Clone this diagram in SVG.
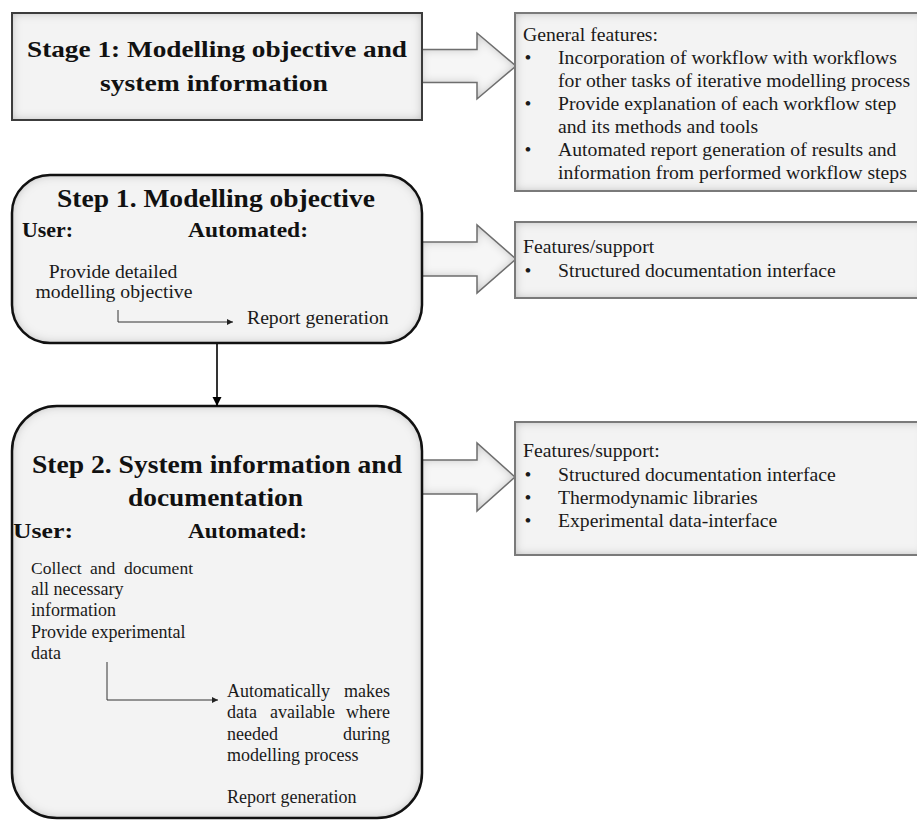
<svg xmlns="http://www.w3.org/2000/svg" width="917" height="820" viewBox="0 0 917 820" font-family="'Liberation Serif', Tinos, 'Times New Roman', 'DejaVu Serif', serif">
  <defs>
    <!-- soft grey inner shading used by all boxes and block arrows -->
    <filter id="inset" x="-10%" y="-10%" width="120%" height="120%">
      <feFlood flood-color="#000" flood-opacity="0.5" result="f"/>
      <feComposite in="f" in2="SourceAlpha" operator="out" result="ring"/>
      <feGaussianBlur in="ring" stdDeviation="5" result="blur"/>
      <feComposite in="blur" in2="SourceAlpha" operator="in" result="shade"/>
      <feMerge><feMergeNode in="SourceGraphic"/><feMergeNode in="shade"/></feMerge>
    </filter>
    <filter id="insetArrow" x="-20%" y="-20%" width="140%" height="140%">
      <feFlood flood-color="#000" flood-opacity="0.45" result="f"/>
      <feComposite in="f" in2="SourceAlpha" operator="out" result="ring"/>
      <feGaussianBlur in="ring" stdDeviation="5" result="blur"/>
      <feComposite in="blur" in2="SourceAlpha" operator="in" result="shade"/>
      <feMerge><feMergeNode in="SourceGraphic"/><feMergeNode in="shade"/></feMerge>
    </filter>
    <marker id="headBlack" viewBox="0 0 10 10" refX="10" refY="5" markerUnits="userSpaceOnUse" markerWidth="9" markerHeight="10" orient="auto">
      <path d="M0,0 L10,5 L0,10 Z" fill="#000"/>
    </marker>
    <marker id="headSmall" viewBox="0 0 10 10" refX="10" refY="5" markerUnits="userSpaceOnUse" markerWidth="8" markerHeight="6" orient="auto">
      <path d="M0,0 L10,5 L0,10 Z" fill="#222"/>
    </marker>
  </defs>
  <style>
    .fill { fill: #f3f3f3; filter: url(#inset); }
    .edgeDark { fill: none; stroke: #3c3c3c; stroke-width: 2; }
    .edgeRound { fill: none; stroke: #111; stroke-width: 2.5; }
    .edgeSide { fill: none; stroke: #7a7a7a; stroke-width: 2; }
    .arrowFill { fill: #f6f6f6; filter: url(#insetArrow); }
    .arrowEdge { fill: none; stroke: #6e6e6e; stroke-width: 1.5; stroke-linejoin: miter; }
    .head { font-weight: bold; fill: #111; }
    .body { fill: #1a1a1a; }
    .side { font-size: 19.7px; fill: #1a1a1a; }
    .conn { fill: none; stroke: #000; stroke-width: 1.6; }
    .connThin { fill: none; stroke: #333; stroke-width: 1; }
  </style>

  <rect width="917" height="820" fill="#fff"/>

  <!-- block arrows from each stage/step to its feature panel -->
  <g id="block-arrows">
    <path class="arrowFill" d="M421,49.5 L477,49.5 L477,33 L516,66 L477,99 L477,82.5 L421,82.5 Z"/>
    <path class="arrowEdge" d="M421,49.5 L477,49.5 L477,33 L516,66 L477,99 L477,82.5 L421,82.5"/>
    <path class="arrowFill" d="M421,242 L477,242 L477,225 L516,259 L477,293 L477,276 L421,276 Z"/>
    <path class="arrowEdge" d="M421,242 L477,242 L477,225 L516,259 L477,293 L477,276 L421,276"/>
    <path class="arrowFill" d="M421,460 L477,460 L477,443 L515,477 L477,511 L477,494 L421,494 Z"/>
    <path class="arrowEdge" d="M421,460 L477,460 L477,443 L515,477 L477,511 L477,494 L421,494"/>
  </g>

  <!-- Stage 1 header -->
  <g id="stage1">
    <rect class="fill" x="12" y="13" width="410" height="107"/>
    <rect class="edgeDark" x="12" y="13" width="410" height="107"/>
    <text class="head" font-size="24" x="27" y="57" textLength="380" lengthAdjust="spacingAndGlyphs">Stage 1: Modelling objective and</text>
    <text class="head" font-size="24" x="100" y="91" textLength="228" lengthAdjust="spacingAndGlyphs">system information</text>
  </g>

  <!-- General features panel -->
  <g id="general-features">
    <rect class="fill" x="515" y="13" width="410" height="178"/>
    <rect class="edgeSide" x="515" y="13" width="410" height="178"/>
    <text class="side" x="523" y="41">General features:</text>
    <text class="side" x="528" y="64" text-anchor="middle">•</text>
    <text class="side" x="558" y="64">Incorporation of workflow with workflows</text>
    <text class="side" x="558" y="87">for other tasks of iterative modelling process</text>
    <text class="side" x="528" y="110" text-anchor="middle">•</text>
    <text class="side" x="558" y="110">Provide explanation of each workflow step</text>
    <text class="side" x="558" y="133">and its methods and tools</text>
    <text class="side" x="528" y="156" text-anchor="middle">•</text>
    <text class="side" x="558" y="156">Automated report generation of results and</text>
    <text class="side" x="558" y="179">information from performed workflow steps</text>
  </g>

  <!-- Step 1 -->
  <g id="step1">
    <rect class="fill" x="12" y="175" width="410" height="168" rx="38" ry="38"/>
    <rect class="edgeRound" x="12" y="175" width="410" height="168" rx="38" ry="38"/>
    <text class="head" font-size="26" x="57" y="207" textLength="318" lengthAdjust="spacingAndGlyphs">Step 1. Modelling objective</text>
    <text class="head" font-size="22" x="22" y="237" textLength="51" lengthAdjust="spacingAndGlyphs">User:</text>
    <text class="head" font-size="22" x="188" y="237" textLength="120" lengthAdjust="spacingAndGlyphs">Automated:</text>
    <text class="body" font-size="19.7" x="113" y="278" text-anchor="middle">Provide detailed</text>
    <text class="body" font-size="19.7" x="114" y="298" text-anchor="middle">modelling objective</text>
    <text class="body" font-size="19.7" x="247" y="324">Report generation</text>
  </g>

  <!-- Step 1 feature panel -->
  <g id="step1-features">
    <rect class="fill" x="515" y="222" width="410" height="76"/>
    <rect class="edgeSide" x="515" y="222" width="410" height="76"/>
    <text class="side" x="523" y="253">Features/support</text>
    <text class="side" x="528" y="277" text-anchor="middle">•</text>
    <text class="side" x="558" y="277">Structured documentation interface</text>
  </g>

  <!-- Step 2 -->
  <g id="step2">
    <rect class="fill" x="12" y="406" width="410" height="412" rx="45" ry="45"/>
    <rect class="edgeRound" x="12" y="406" width="410" height="412" rx="45" ry="45"/>
    <text class="head" font-size="25" x="32" y="473" textLength="370" lengthAdjust="spacingAndGlyphs">Step 2. System information and</text>
    <text class="head" font-size="25" x="128" y="506" textLength="175" lengthAdjust="spacingAndGlyphs">documentation</text>
    <text class="head" font-size="22" x="13" y="538" textLength="60" lengthAdjust="spacingAndGlyphs">User:</text>
    <text class="head" font-size="22" x="188" y="538" textLength="119" lengthAdjust="spacingAndGlyphs">Automated:</text>
    <g class="body" font-size="18">
      <text x="31" y="574" font-size="17.5">Collect</text>
      <text x="90" y="574" font-size="17.5">and</text>
      <text x="193" y="574" font-size="17.5" text-anchor="end">document</text>
      <text x="31" y="595">all necessary</text>
      <text x="31" y="616">information</text>
      <text x="31" y="638">Provide experimental</text>
      <text x="31" y="659">data</text>
      <text x="227" y="697">Automatically</text>
      <text x="390" y="697" text-anchor="end">makes</text>
      <text x="227" y="718">data</text>
      <text x="270" y="718">available</text>
      <text x="390" y="718" text-anchor="end">where</text>
      <text x="227" y="740">needed</text>
      <text x="390" y="740" text-anchor="end">during</text>
      <text x="227" y="761">modelling process</text>
      <text x="227" y="803">Report generation</text>
    </g>
  </g>

  <!-- Step 2 feature panel -->
  <g id="step2-features">
    <rect class="fill" x="515" y="422" width="410" height="133"/>
    <rect class="edgeSide" x="515" y="422" width="410" height="133"/>
    <text class="side" x="523" y="457">Features/support:</text>
    <text class="side" x="528" y="481" text-anchor="middle">•</text>
    <text class="side" x="558" y="481">Structured documentation interface</text>
    <text class="side" x="528" y="504" text-anchor="middle">•</text>
    <text class="side" x="558" y="504">Thermodynamic libraries</text>
    <text class="side" x="528" y="527" text-anchor="middle">•</text>
    <text class="side" x="558" y="527">Experimental data-interface</text>
  </g>

  <!-- flow connectors -->
  <g id="connectors">
    <path class="conn" d="M217,344 L217,406" marker-end="url(#headBlack)"/>
    <path class="connThin" d="M118,310 L118,322 L233,322" marker-end="url(#headSmall)"/>
    <path class="connThin" d="M107,662 L107,700 L218,700" marker-end="url(#headSmall)"/>
  </g>
</svg>
